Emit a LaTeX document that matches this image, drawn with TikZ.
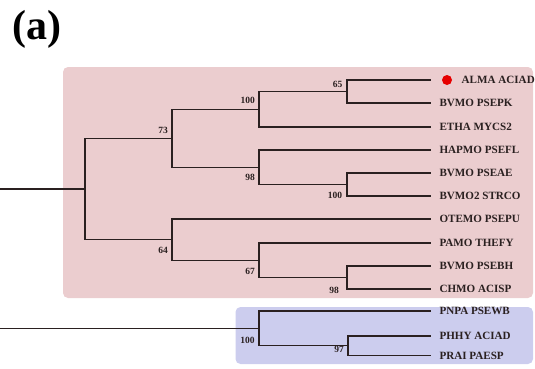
\documentclass[tikz,border=0pt]{standalone}
\usepackage{fontspec}
\setmainfont{Liberation Serif}
\definecolor{cladeA}{HTML}{EBCDCF}
\definecolor{cladeB}{HTML}{CCCDEE}
\definecolor{branch}{HTML}{2A2020}
\definecolor{marker}{HTML}{E60000}
\begin{document}
\begin{tikzpicture}[x=1pt,y=-1pt,
  branchline/.style={draw=branch,line width=1.4pt},
  leaf/.style={anchor=west,inner sep=0pt,font=\fontsize{11.1}{12}\selectfont\bfseries,text=branch},
  boot/.style={inner sep=0pt,font=\fontsize{9.5}{10}\selectfont\bfseries,text=branch},
  panel/.style={rounded corners=5pt,draw=none}]
\useasboundingbox (0,0) rectangle (535,368);

% panel label
\node[inner sep=0pt,font=\fontsize{42}{44}\selectfont\bfseries] (lab) at (37,29) {(a)};

% clade backgrounds
\fill[cladeA,panel] (63,67) rectangle (533,298);
\fill[cladeB,panel] (235.5,307) rectangle (533,364);

% leaf tips
\foreach \n/\y in {ALMA/80,PSEPK/103,ETHA/127,HAPMO/150,PSEAE/173,STRCO/196,
                   OTEMO/219,PAMO/243,PSEBH/266,CHMO/289,PNPA/311,PHHY/336,PRAI/355.5}
  \coordinate (t\n) at (431,\y);

% internal nodes
\coordinate (n65)  at (347,91.5);
\coordinate (n100a) at (259,109.25);
\coordinate (n100b) at (347,184.5);
\coordinate (n98a) at (259,167.25);
\coordinate (n73)  at (172,138.25);
\coordinate (n98b) at (347,277.5);
\coordinate (n67)  at (259,260.25);
\coordinate (n64)  at (172,239.6);
\coordinate (rootA) at (85,188.9);
\coordinate (n97)  at (348,345.75);
\coordinate (n100c) at (259,328.5);
\coordinate (stemA) at (0,188.9);
\coordinate (stemB) at (0,328.5);

% branches
\draw[branchline] (n65) |- (tALMA) (n65) |- (tPSEPK);
\draw[branchline] (n100a) |- (n65) (n100a) |- (tETHA);
\draw[branchline] (n100b) |- (tPSEAE) (n100b) |- (tSTRCO);
\draw[branchline] (n98a) |- (tHAPMO) (n98a) |- (n100b);
\draw[branchline] (n73) |- (n100a) (n73) |- (n98a);
\draw[branchline] (n98b) |- (tPSEBH) (n98b) |- (tCHMO);
\draw[branchline] (n67) |- (tPAMO) (n67) |- (n98b);
\draw[branchline] (n64) |- (tOTEMO) (n64) |- (n67);
\draw[branchline] (rootA) |- (n73) (rootA) |- (n64);
\draw[branchline] (stemA) -- (rootA);
\draw[branchline] (n97) |- (tPHHY) (n97) |- (tPRAI);
\draw[branchline] (n100c) |- (tPNPA) (n100c) |- (n97);
\draw[branchline] (stemB) -- (n100c);

% leaf names
\fill[marker] (447,80) circle (5pt);
\node[leaf] (lALMA) at (461.5,80) {ALMA ACIAD};
\node[leaf] (lPSEPK) at (439.3,103) {BVMO PSEPK};
\node[leaf] (lETHA) at (439.3,127) {ETHA MYCS2};
\node[leaf] (lHAPMO) at (439.3,150) {HAPMO PSEFL};
\node[leaf] (lPSEAE) at (439.3,173) {BVMO PSEAE};
\node[leaf] (lSTRCO) at (439.3,196) {BVMO2 STRCO};
\node[leaf] (lOTEMO) at (439.3,219) {OTEMO PSEPU};
\node[leaf] (lPAMO) at (439.3,243) {PAMO THEFY};
\node[leaf] (lPSEBH) at (439.3,266) {BVMO PSEBH};
\node[leaf] (lCHMO) at (439.3,289) {CHMO ACISP};
\node[leaf] (lPNPA) at (439.3,311) {PNPA PSEWB};
\node[leaf] (lPHHY) at (439.3,336) {PHHY ACIAD};
\node[leaf] (lPRAI) at (439.3,355.5) {PRAI PAESP};

% bootstrap support
\node[boot] (b65) at (337.5,84) {65};
\node[boot] (b100a) at (247.7,100) {100};
\node[boot] (b73) at (163,130) {73};
\node[boot] (b98a) at (250,177.5) {98};
\node[boot] (b100b) at (335,195) {100};
\node[boot] (b64) at (163,250) {64};
\node[boot] (b67) at (250,271) {67};
\node[boot] (b98b) at (334,290) {98};
\node[boot] (b100c) at (247.5,340) {100};
\node[boot] (b97) at (339,349.5) {97};
\end{tikzpicture}
\end{document}
